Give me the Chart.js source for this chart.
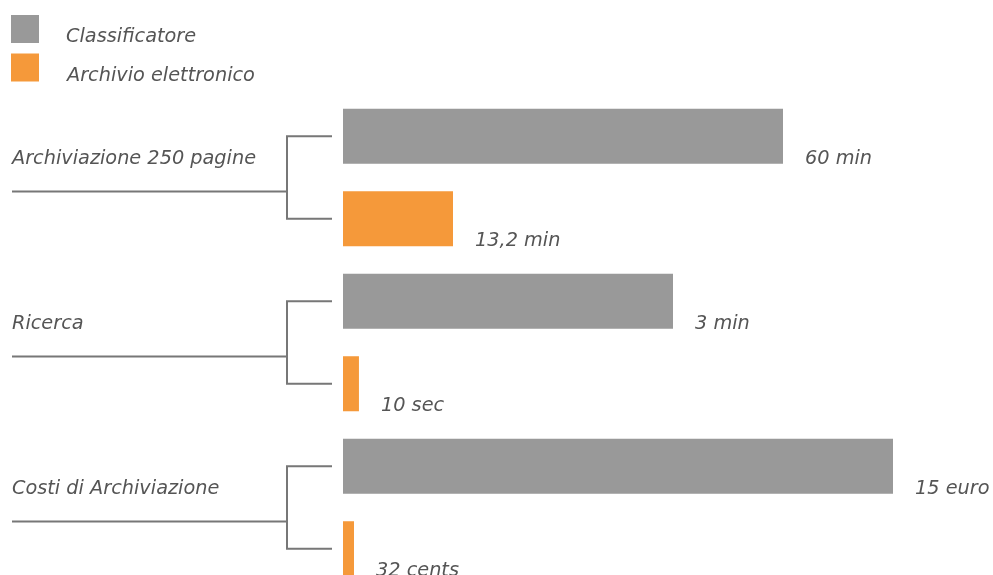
<!DOCTYPE html>
<html>
<head>
<meta charset="utf-8">
<script src="https://cdn.jsdelivr.net/npm/chart.js@4.4.0/dist/chart.umd.min.js"></script>
<style>
    html, body { margin: 0; padding: 0; background: #fff; overflow: hidden; }
    #wrap { width: 993px; height: 600px; }
</style>
</head>
<body>
<div id="wrap"><canvas id="chart"></canvas></div>
<script>
// categorie (una coppia di barre per ciascuna)
const categories = ['Archiviazione 250 pagine', 'Ricerca', 'Costi di Archiviazione'];
const seriesNames = ['Classificatore', 'Archivio elettronico'];

// lunghezza relativa delle barre (scala 0-100)
const classificatoreBars = [80, 60, 100];
const archivioBars = [20, 2.9, 2];

// etichette di valore a destra delle barre
const classificatoreLabels = ['60 min', '3 min', '15 euro'];
const archivioLabels = ['13,2 min', '10 sec', '32 cents'];

const GRAY = '#999999';
const ORANGE = '#f5993a';
const TEXT = '#555555';
const LINE = '#777777';
const FONT = 'italic 19.3px "DejaVu Sans"';

// 6 righe: per ogni categoria prima il grigio poi l'arancio
const rows = [];
const grayData = [];
const orangeData = [];
categories.forEach((c, i) => {
    rows.push(c + ' A', c + ' B');
    grayData.push(classificatoreBars[i], null);
    orangeData.push(null, archivioBars[i]);
});

const annotations = {
    id: 'annotations',
    afterDraw(chart) {
        const ctx = chart.ctx;
        const x = chart.scales.x;
        const y = chart.scales.y;
        const half = (y.getPixelForValue(1) - y.getPixelForValue(0)) * 0.667 / 2;

        ctx.save();
        ctx.font = FONT;
        ctx.fillStyle = TEXT;
        ctx.textBaseline = 'alphabetic';

        // legenda
        const legendColors = [GRAY, ORANGE];
        seriesNames.forEach((name, i) => {
            const top = 15 + i * 38.5;
            ctx.fillStyle = legendColors[i];
            ctx.fillRect(11, top, 28, 28);
            ctx.fillStyle = TEXT;
            ctx.fillText(name, 66 + i, top + 27);
        });

        categories.forEach((c, i) => {
            const y1 = y.getPixelForValue(i * 2);
            const y2 = y.getPixelForValue(i * 2 + 1);
            const mid = y1 + (y2 - y1) * 0.67;

            // etichetta categoria
            ctx.fillStyle = TEXT;
            ctx.fillText(c, 12, y1 + half);

            // parentesi
            ctx.strokeStyle = LINE;
            ctx.lineWidth = 2;
            ctx.beginPath();
            ctx.moveTo(12, mid);
            ctx.lineTo(287, mid);
            ctx.moveTo(332, y1);
            ctx.lineTo(287, y1);
            ctx.lineTo(287, y2);
            ctx.lineTo(332, y2);
            ctx.stroke();

            // valori
            ctx.fillText(classificatoreLabels[i], x.getPixelForValue(classificatoreBars[i]) + 22, y1 + half);
            ctx.fillText(archivioLabels[i], x.getPixelForValue(archivioBars[i]) + 22, y2 + half);
        });
        ctx.restore();
    }
};

new Chart(document.getElementById('chart'), {
    type: 'bar',
    data: {
        labels: rows,
        datasets: [{
            label: seriesNames[0],
            data: grayData,
            backgroundColor: GRAY
        }, {
            label: seriesNames[1],
            data: orangeData,
            backgroundColor: ORANGE
        }]
    },
    options: {
        indexAxis: 'y',
        responsive: true,
        maintainAspectRatio: false,
        animation: false,
        grouped: false,
        categoryPercentage: 1,
        barPercentage: 0.667,
        layout: {
            padding: { top: 95, bottom: 10, left: 343, right: 100 }
        },
        plugins: {
            legend: { display: false },
            tooltip: { enabled: false }
        },
        scales: {
            x: { display: false, min: 0, max: 100 },
            y: { display: false }
        }
    },
    plugins: [annotations]
});
</script>
</body>
</html>
